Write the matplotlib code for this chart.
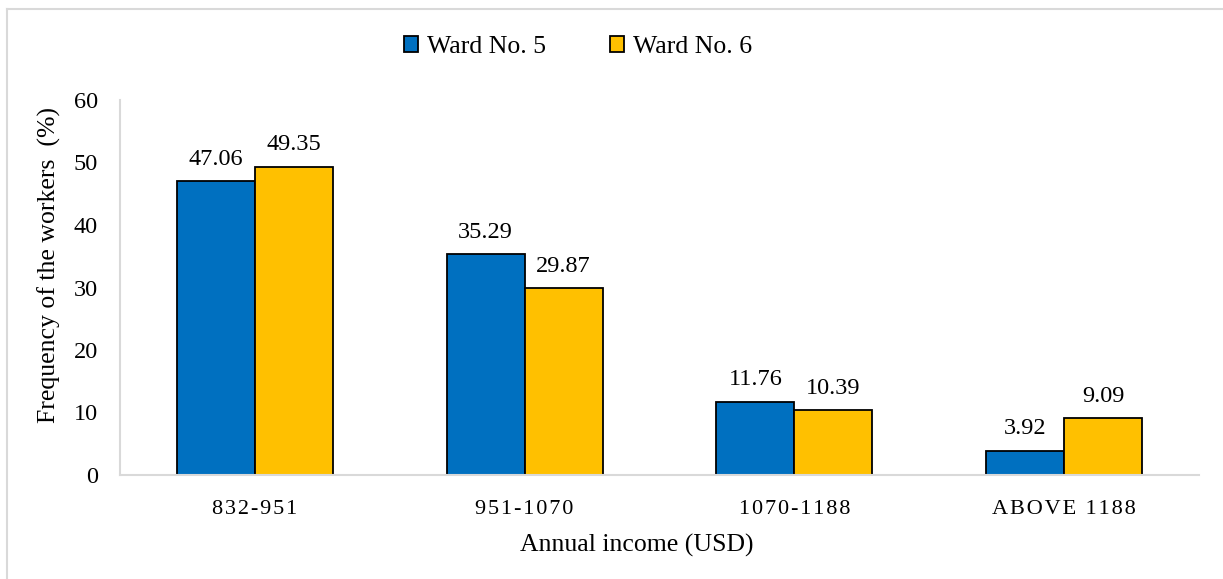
import matplotlib
matplotlib.use("Agg")
import matplotlib.pyplot as plt
import numpy as np
from matplotlib.lines import Line2D

categories = ["832-951", "951-1070", "1070-1188", "ABOVE 1188"]
ward5 = [47.06, 35.29, 11.76, 3.92]
ward6 = [49.35, 29.87, 10.39, 9.09]
series_names = ["Ward No. 5", "Ward No. 6"]
yticks = [0, 10, 20, 30, 40, 50, 60]

FONT = ["Liberation Serif", "DejaVu Serif"]
plt.rcParams["font.family"] = FONT

W, H = 1223, 579
fig = plt.figure(figsize=(W / 100, H / 100), dpi=100)
ax = fig.add_axes([120 / W, 1 - 475 / H, (1199 - 120) / W, (475 - 100) / H])

x = np.arange(len(categories))
bw = 0.289
b1 = ax.bar(x - bw / 2, ward5, bw, color="#0070C0", edgecolor="black", linewidth=1.3, label=series_names[0])
b2 = ax.bar(x + bw / 2, ward6, bw, color="#FFC000", edgecolor="black", linewidth=1.3, label=series_names[1])

for bars, vals in ((b1, ward5), (b2, ward6)):
    for rect, v in zip(bars, vals):
        ax.annotate(f"{v:.2f}", (rect.get_x() + rect.get_width() / 2, v),
                    xytext=(0, 8), textcoords="offset points",
                    ha="center", va="bottom", fontsize=17.5)

ax.set_xlim(-0.5, len(categories) - 0.5)
ax.set_ylim(0, 60)
ax.set_yticks(yticks)
ax.set_yticklabels([str(t) for t in yticks], fontsize=17.5)
ax.set_xticks(x)
spaced = ["\u200a".join(list(c)) for c in categories]
ax.set_xticklabels(spaced, fontsize=16)
ax.tick_params(axis="both", length=0)
ax.tick_params(axis="x", pad=18)
ax.tick_params(axis="y", pad=16)

for s in ("top", "right"):
    ax.spines[s].set_visible(False)
for s in ("left", "bottom"):
    ax.spines[s].set_color("#d9d9d9")
    ax.spines[s].set_linewidth(1.5)

ax.set_xlabel("Annual income (USD)", fontsize=18.5)
ax.set_ylabel("Frequency of the workers  (%)", fontsize=18.5)
ax.xaxis.set_label_coords((637 - 120) / 1079, (475 - 534) / 375)
ax.yaxis.set_label_coords((61 - 120) / 1079, (475 - 265) / 375)

handles = [plt.Rectangle((0, 0), 1, 1, facecolor="#0070C0", edgecolor="black", linewidth=1.3),
           plt.Rectangle((0, 0), 1, 1, facecolor="#FFC000", edgecolor="black", linewidth=1.3)]
fig.legend(handles, series_names, loc="center", bbox_to_anchor=(578 / W, 1 - 47 / H),
           ncol=2, frameon=False, fontsize=18.5, handlelength=0.55, handleheight=0.55,
           handletextpad=0.35, columnspacing=2.5)

# chart border (top and left visible)
fig.add_artist(Line2D([7 / W, 1.0], [1 - 9 / H, 1 - 9 / H], color="#d9d9d9", linewidth=1.5, transform=fig.transFigure))
fig.add_artist(Line2D([7 / W, 7 / W], [0, 1 - 9 / H], color="#d9d9d9", linewidth=1.5, transform=fig.transFigure))

fig.savefig("out.png", dpi=100)
